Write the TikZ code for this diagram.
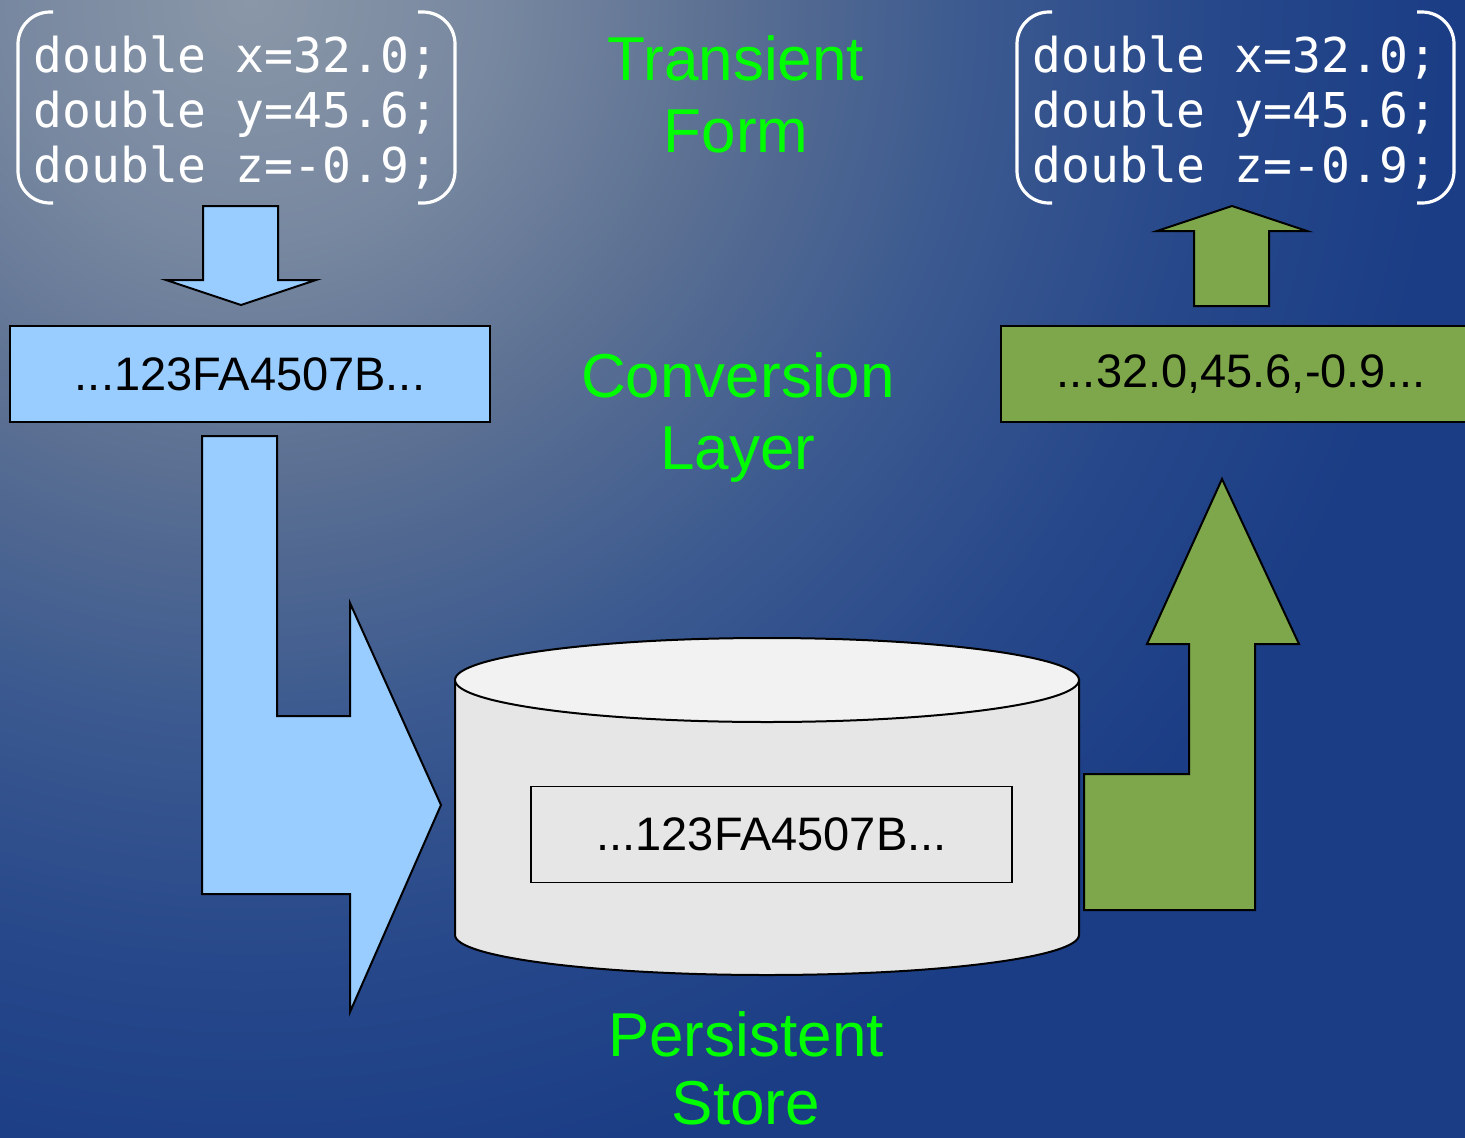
\documentclass[tikz,border=0pt]{standalone}
\usepackage{fontspec}
\setmainfont{Liberation Sans}
\newfontfamily\codefont{DejaVu Sans Mono}

\definecolor{bgA}{HTML}{8A97A8}
\definecolor{bgB}{HTML}{7888A0}
\definecolor{bgC}{HTML}{5A6F92}
\definecolor{bgD}{HTML}{3C5A90}
\definecolor{bgE}{HTML}{27488A}
\definecolor{bgdark}{HTML}{1B3D85}
\definecolor{paleblue}{HTML}{99CCFF}
\definecolor{leafgreen}{HTML}{7EA64A}
\definecolor{drumside}{HTML}{E6E6E6}
\definecolor{drumtop}{HTML}{F2F2F2}
\definecolor{labelgreen}{HTML}{00FF00}

% soft radial backdrop, light in the upper left, deep blue elsewhere
% (a shaded circle's rim corresponds to 25bp of the shading)
\pgfdeclareradialshading{backdrop}{\pgfpoint{0bp}{0bp}}{%
  color(0bp)=(bgA); color(5bp)=(bgB); color(10bp)=(bgC);
  color(15bp)=(bgD); color(20bp)=(bgE); color(25bp)=(bgdark);
  color(50bp)=(bgdark)}

\begin{document}
\begin{tikzpicture}[x=1pt, y=-1pt,
  outline/.style={draw=black, line width=2pt, line join=miter},
  bracket/.style={draw=white, line width=3.2pt, rounded corners=32pt},
  code/.style={text=white, font=\codefont\fontsize{48}{55.3}\selectfont,
    align=left, anchor=north west, inner sep=0pt},
  caption/.style={text=labelgreen, font=\fontsize{62}{72}\selectfont,
    align=center, anchor=north, inner sep=0pt},
  databox/.style={outline, minimum width=480pt, minimum height=96pt,
    inner sep=0pt, font=\fontsize{47}{56}\selectfont},
]
\useasboundingbox (0,0) rectangle (1465,1138);

% background
\begin{scope}
  \clip (0,0) rectangle (1465,1138);
  \fill[bgdark] (0,0) rectangle (1465,1138);
  \shade[shading=backdrop] (250,0) circle [radius=1200pt];
\end{scope}

% source variables in brackets
\draw[bracket] (53,12) -- (18,12) -- (18,203) -- (53,203);
\draw[bracket] (418,12) -- (455,12) -- (455,203) -- (418,203);
\node[code] (srcvars) at (33.3,33.3)
  {double x=32.0;\strut\\double y=45.6;\strut\\double z=-0.9;\strut};

% restored variables in brackets
\draw[bracket] (1052,12) -- (1017,12) -- (1017,203) -- (1052,203);
\draw[bracket] (1417,12) -- (1454,12) -- (1454,203) -- (1417,203);
\node[code] (dstvars) at (1032.3,33.3)
  {double x=32.0;\strut\\double y=45.6;\strut\\double z=-0.9;\strut};

% small block arrows between the variables and the conversion boxes
\path[outline, fill=paleblue] (203,206) -- (278,206) -- (278,280) -- (316,280)
  -- (241,305) -- (166,280) -- (203,280) -- cycle;
\path[outline, fill=leafgreen] (1194,306) -- (1269,306) -- (1269,231) -- (1307,231)
  -- (1232,206) -- (1157,231) -- (1194,231) -- cycle;

% conversion layer boxes
\node[databox, fill=paleblue] (encoded) at (250,374) {...123FA4507B...};
\node[databox, fill=leafgreen] (decoded) at (1241,374) {...32.0,45.6,-0.9...};

% bent block arrow into the store
\path[outline, fill=paleblue] (202,436) -- (277,436) -- (277,716) -- (350,716)
  -- (350,603) -- (441,805) -- (350,1012) -- (350,894) -- (202,894) -- cycle;

% bent block arrow out of the store
\path[outline, fill=leafgreen] (1084,910) -- (1255,910) -- (1255,644) -- (1299,644)
  -- (1222,479) -- (1147,644) -- (1189,644) -- (1189,774) -- (1084,774) -- cycle;

% persistent store drum
\path[outline, fill=drumside] (455,680) -- (455,935)
  .. controls (455,957.1) and (594.7,975) .. (767,975)
  .. controls (939.3,975) and (1079,957.1) .. (1079,935)
  -- (1079,680) -- cycle;
\path[outline, fill=drumtop] (767,680) ellipse [x radius=312pt, y radius=42pt];
\node[databox, line width=1.5pt, fill=drumside, minimum width=481pt] (stored)
  at (771.5,834.5) {...123FA4507B...};

% layer captions
\node[caption] (transient) at (736,29.6) {Transient\strut\\Form};
\node[caption] (conversion) at (738,346.6) {Conversion\strut\\Layer};
\node[caption, font=\fontsize{62}{68}\selectfont] (persistent) at (746,1008.4)
  {Persistent\strut\\Store};
\end{tikzpicture}
\end{document}
